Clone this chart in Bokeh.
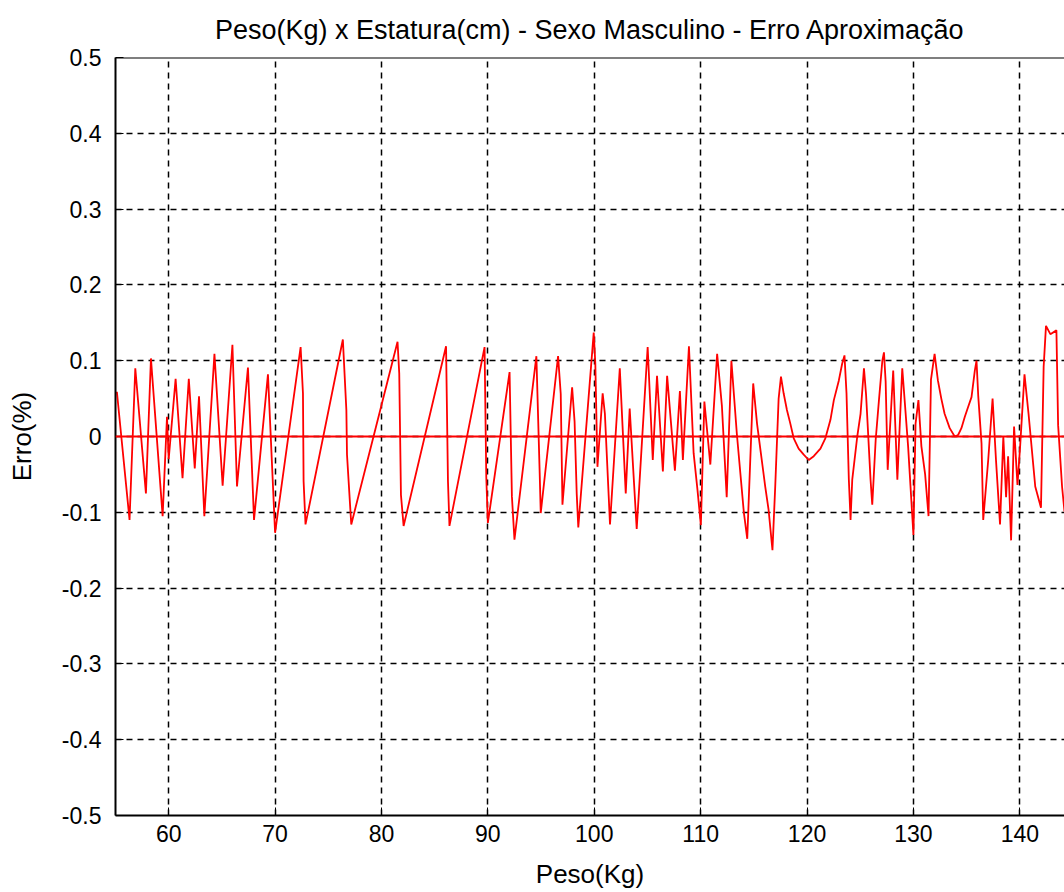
from bokeh.plotting import figure
from bokeh.models import FixedTicker, CustomJSTickFormatter, Range1d, Span
from bokeh.embed import file_html
from bokeh.resources import INLINE

# Approximation error (%) versus body weight (kg), male sample
peso = [
    55.13, 56.32, 56.86, 57.86, 58.33, 59.43, 59.84, 60.00, 60.65, 61.30,
    61.89, 62.45, 62.85, 63.35, 64.30, 65.07, 65.99, 66.42, 67.45, 68.02,
    69.33, 70.00, 72.40, 72.62, 72.68, 72.86, 76.37, 76.70, 76.76, 77.16,
    81.51, 81.67, 81.83, 82.08, 86.07, 86.25, 86.39, 89.69, 89.85, 90.00,
    92.04, 92.26, 92.50, 94.56, 94.87, 94.97, 96.60, 96.85, 97.01, 97.92,
    98.15, 98.35, 98.50, 99.95, 100.10, 100.30, 100.79, 101.00, 101.48, 102.40,
    102.96, 103.33, 103.99, 105.02, 105.50, 105.90, 106.45, 106.85, 107.58, 108.05,
    108.33, 108.90, 109.34, 109.70, 110.02, 110.35, 110.91, 111.55, 112.00, 112.45,
    112.89, 113.40, 114.06, 114.38, 114.94, 115.30, 115.66, 116.07, 116.38, 116.75,
    117.01, 117.33, 117.55, 117.80, 118.11, 118.43, 118.74, 119.21, 119.69, 120.16,
    120.63, 121.26, 121.73, 122.20, 122.52, 122.99, 123.30, 123.52, 123.71, 123.93,
    124.09, 124.25, 124.72, 125.03, 125.35, 125.55, 125.97, 126.13, 126.45, 126.76,
    127.08, 127.23, 127.39, 127.58, 128.10, 128.49, 128.95, 129.50, 130.00, 130.20,
    130.47, 130.75, 131.10, 131.42, 131.65, 131.99, 132.30, 132.62, 132.93, 133.41,
    133.88, 134.20, 134.51, 134.83, 135.14, 135.46, 135.77, 135.93, 136.09, 136.40,
    136.56, 137.03, 137.44, 137.76, 138.14, 138.45, 138.71, 138.90, 139.18, 139.46,
    139.78, 140.03, 140.44, 140.82, 141.45, 141.99, 142.24, 142.46, 142.87, 143.44,
    143.60, 143.97, 144.20,
]
erro = [
    0.059, -0.110, 0.090, -0.075, 0.103, -0.105, 0.026, -0.030, 0.076, -0.055,
    0.076, -0.042, 0.053, -0.105, 0.109, -0.065, 0.121, -0.066, 0.091, -0.110,
    0.082, -0.127, 0.118, 0.057, -0.059, -0.116, 0.128, 0.035, -0.024, -0.116,
    0.125, 0.083, -0.077, -0.118, 0.119, -0.059, -0.118, 0.118, -0.053, -0.114,
    0.085, -0.079, -0.136, 0.106, -0.048, -0.101, 0.106, 0.056, -0.090, 0.065,
    0.020, -0.075, -0.120, 0.137, 0.096, -0.040, 0.057, 0.030, -0.116, 0.090,
    -0.075, 0.037, -0.122, 0.118, -0.031, 0.080, -0.046, 0.080, -0.045, 0.060,
    -0.031, 0.119, -0.022, -0.070, -0.117, 0.046, -0.037, 0.109, 0.040, -0.080,
    0.100, 0.004, -0.100, -0.135, 0.070, 0.017, -0.022, -0.066, -0.096, -0.150,
    -0.066, 0.050, 0.079, 0.057, 0.035, 0.017, -0.002, -0.016, -0.024, -0.031,
    -0.026, -0.016, -0.002, 0.022, 0.048, 0.074, 0.096, 0.107, 0.057, -0.057,
    -0.110, -0.057, 0.000, 0.030, 0.090, 0.055, -0.057, -0.090, -0.005, 0.048,
    0.100, 0.111, 0.072, -0.044, 0.087, -0.057, 0.090, -0.013, -0.130, 0.017,
    0.048, -0.013, -0.050, -0.105, 0.075, 0.109, 0.074, 0.050, 0.030, 0.011,
    0.000, 0.002, 0.011, 0.026, 0.039, 0.052, 0.087, 0.100, 0.054, -0.009,
    -0.110, -0.031, 0.050, -0.031, -0.116, 0.000, -0.080, -0.026, -0.137, 0.013,
    -0.064, -0.013, 0.082, 0.030, -0.066, -0.094, 0.092, 0.146, 0.135, 0.140,
    0.015, -0.066, -0.099,
]

x_ticks = [60, 70, 80, 90, 100, 110, 120, 130, 140]
y_ticks = [-0.5, -0.4, -0.3, -0.2, -0.1, 0, 0.1, 0.2, 0.3, 0.4, 0.5]
x_limits = (55, 144.2)
y_limits = (-0.5, 0.5)

FONT = "Liberation Sans"
TITLE_FS = "27px"
LABEL_FS = "26px"
TICK_FS = "23px"

p = figure(
    width=1064, height=892,
    x_range=Range1d(*x_limits), y_range=Range1d(*y_limits),
    output_backend="svg", toolbar_location=None,
    x_axis_label="Peso(Kg)", y_axis_label="Erro(%)",
    min_border_left=115, min_border_right=0,
    min_border_top=55, min_border_bottom=77,
)
p.title.text = "Peso(Kg) x Estatura(cm) - Sexo Masculino - Erro Aproximação"
p.title.align = "center"
p.title.text_font = FONT
p.title.text_font_size = TITLE_FS
p.title.text_font_style = "normal"
p.title.text_color = "black"
p.title.standoff = 25
p.outline_line_color = None
p.background_fill_color = "white"
p.border_fill_color = "white"

tick_fmt = CustomJSTickFormatter(code="return String(Number(tick.toFixed(1)));")

for ax in (p.xaxis[0], p.yaxis[0]):
    ax.axis_line_color = "black"
    ax.axis_line_width = 2
    ax.major_tick_in = 8
    ax.major_tick_out = 0
    ax.major_tick_line_color = "black"
    ax.major_tick_line_width = 1
    ax.minor_tick_line_color = None
    ax.major_label_text_font = FONT
    ax.major_label_text_font_size = TICK_FS
    ax.major_label_text_color = "black"
    ax.axis_label_text_font = FONT
    ax.axis_label_text_font_size = LABEL_FS
    ax.axis_label_text_font_style = "normal"
    ax.axis_label_text_color = "black"

p.xaxis[0].ticker = FixedTicker(ticks=x_ticks)
p.yaxis[0].ticker = FixedTicker(ticks=y_ticks)
p.yaxis[0].formatter = tick_fmt
p.xaxis[0].major_label_standoff = 9
p.yaxis[0].major_label_standoff = 14
p.xaxis[0].axis_label_standoff = 14
p.yaxis[0].axis_label_standoff = 22

for g in (p.xgrid[0], p.ygrid[0]):
    g.grid_line_color = "black"
    g.grid_line_dash = "6 5"
    g.grid_line_width = 1.5
p.xgrid[0].ticker = FixedTicker(ticks=x_ticks)
p.ygrid[0].ticker = FixedTicker(ticks=y_ticks)

# top border of the axes box
p.add_layout(Span(location=y_limits[1], dimension="width", line_color="black", line_width=2))
# zero reference line
p.add_layout(Span(location=0, dimension="width", line_color="#ff0000", line_width=2))
p.line(peso, erro, line_color="#ff0000", line_width=1.8)

open("out.html", "w").write(file_html(p, INLINE))
